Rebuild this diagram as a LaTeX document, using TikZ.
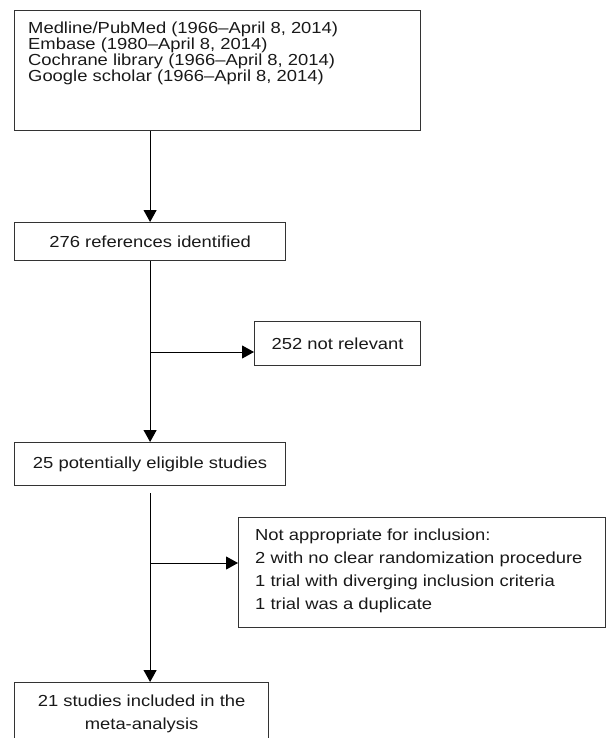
\documentclass[tikz,border=0pt]{standalone}
\usepackage{fontspec}
\setmainfont{Liberation Sans}[FakeStretch=1.15]
\usetikzlibrary{arrows.meta}
\begin{document}
\begin{tikzpicture}[x=1pt,y=-1pt,
  box/.style={draw=black!80, line width=1.2pt, rectangle, inner sep=0pt, anchor=north west,
              font=\fontsize{16}{23}\selectfont, text=black!90},
  lbl/.style={inner sep=0pt, text=black!90, anchor=north west, align=left},
  arr/.style={draw=black, line width=1pt, -{Triangle[width=13pt,length=12pt]}},
  ln/.style={draw=black, line width=1pt}]
\useasboundingbox (0,0) rectangle (606,738);
\clip (0,0) rectangle (606,738);
% boxes
\node[box, minimum width=406pt, minimum height=120pt] (src) at (14,10) {};
\node[lbl, font=\fontsize{16}{16.2}\selectfont] (srctxt) at (28,21.5)
  {Medline/PubMed (1966–April 8, 2014)\\Embase (1980–April 8, 2014)\\Cochrane library (1966–April 8, 2014)\\Google scholar (1966–April 8, 2014)};
\node[box, minimum width=271pt, minimum height=38pt] (refs) at (14,222) {276 references identified};
\node[box, minimum width=166pt, minimum height=44pt] (nrel) at (254,321) {252 not relevant};
\node[box, minimum width=271pt, minimum height=43pt] (elig) at (14,442) {25 potentially eligible studies};
\node[box, minimum width=367pt, minimum height=110pt] (excl) at (238,517) {};
\node[lbl, font=\fontsize{16}{23}\selectfont] (excltxt) at (255,529)
  {Not appropriate for inclusion:\\2 with no clear randomization procedure\\1 trial with diverging inclusion criteria\\1 trial was a duplicate};
\node[box, minimum width=254pt, minimum height=62pt, align=center] (incl) at (14,682) {21 studies included in the\\meta-analysis};
% junctions
\coordinate (j1) at (refs.south |- 0,352);
\coordinate (j2) at (elig.south |- 0,563);
\coordinate (gap) at ([yshift=-7pt]elig.south);
% connectors
\draw[arr] (src.south -| refs.north) -- (refs.north);
\draw[arr] (refs.south) -- (elig.north);
\draw[arr] (j1) -- (j1 -| nrel.west);
\draw[arr] (gap) -- (gap |- incl.north);
\draw[arr] (j2) -- (j2 -| excl.west);
\end{tikzpicture}
\end{document}
